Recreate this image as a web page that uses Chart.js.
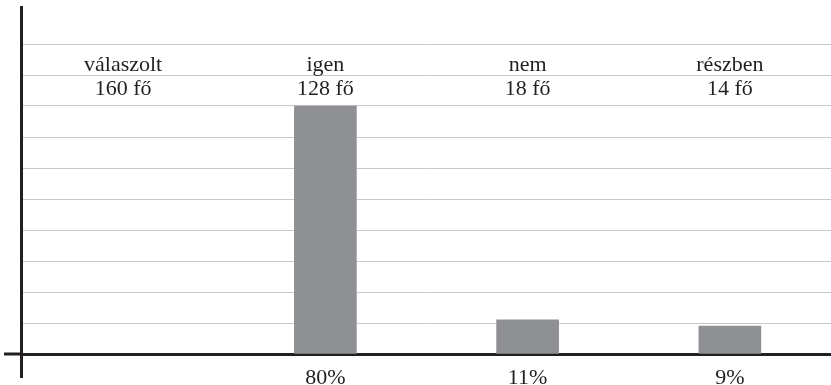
<!DOCTYPE html>
<html>
<head>
<meta charset="utf-8">
<script src="https://cdn.jsdelivr.net/npm/chart.js@4"></script>
<style>
  html, body { margin: 0; padding: 0; background: #fff; overflow: hidden; }
  #wrap { width: 831px; height: 385px; }
</style>
</head>
<body>
<div id="wrap"><canvas id="c" width="831" height="385"></canvas></div>
<script>
// Survey answers: category names, head counts and share of respondents (%)
const categories = ['válaszolt', 'igen', 'nem', 'részben'];
const counts = [160, 128, 18, 14];
const percents = [null, 80, 11, 9];
const percentLabels = ['', '80%', '11%', '9%'];
const yTicks = [0, 10, 20, 30, 40, 50, 60, 70, 80, 90, 100];

const INK = '#231f20';
const FONT = '"Liberation Serif", "Times New Roman", serif';
const FONT_SIZE = 22;

// Category names and head counts written in the rows between the top grid lines,
// plus the axis lines that run past the plot area.
const tablePlugin = {
  id: 'tableRows',
  afterDraw(chart) {
    const { ctx, chartArea, scales } = chart;
    const xs = scales.x, ys = scales.y;
    ctx.save();
    ctx.fillStyle = INK;
    ctx.font = FONT_SIZE + 'px ' + FONT;
    ctx.textAlign = 'center';
    ctx.textBaseline = 'alphabetic';
    const nameY = ys.getPixelForValue(90) - 4;
    const countY = ys.getPixelForValue(80) - 11;
    categories.forEach((c, i) => {
      const x = xs.getPixelForValue(i);
      ctx.fillText(c, x, nameY);
      ctx.fillText(counts[i] + ' fő', x, countY);
    });
    // vertical axis line, longer than the plot area
    ctx.strokeStyle = INK;
    ctx.lineWidth = 3;
    ctx.beginPath();
    ctx.moveTo(chartArea.left - 0.5, 6);
    ctx.lineTo(chartArea.left - 0.5, 378);
    ctx.stroke();
    // horizontal axis line extended to the left
    const y0 = ys.getPixelForValue(0);
    ctx.beginPath();
    ctx.moveTo(4, y0);
    ctx.lineTo(chartArea.left, y0);
    ctx.stroke();
    ctx.restore();
  }
};

new Chart(document.getElementById('c'), {
  type: 'bar',
  data: {
    labels: categories,
    datasets: [{
      data: percents,
      backgroundColor: '#8f9094',
      borderWidth: 0,
      barThickness: 62
    }]
  },
  options: {
    responsive: false,
    animation: false,
    events: [],
    layout: { padding: { left: 22, right: 0, top: 44, bottom: 0 } },
    plugins: { legend: { display: false }, tooltip: { enabled: false } },
    scales: {
      x: {
        afterFit: (scale) => { scale.height = 31; },
        grid: { display: false, drawTicks: false },
        border: { display: true, color: INK, width: 3 },
        ticks: {
          callback: (v, i) => percentLabels[i],
          color: INK,
          font: { family: FONT, size: FONT_SIZE, lineHeight: 1 },
          padding: 13,
          maxRotation: 0
        }
      },
      y: {
        min: 0,
        max: 100,
        afterBuildTicks: (axis) => { axis.ticks = yTicks.map(v => ({ value: v })); },
        grid: { color: '#c8c8c8', lineWidth: 1, drawTicks: false },
        border: { display: false },
        ticks: { display: false }
      }
    }
  },
  plugins: [tablePlugin]
});
</script>
</body>
</html>
